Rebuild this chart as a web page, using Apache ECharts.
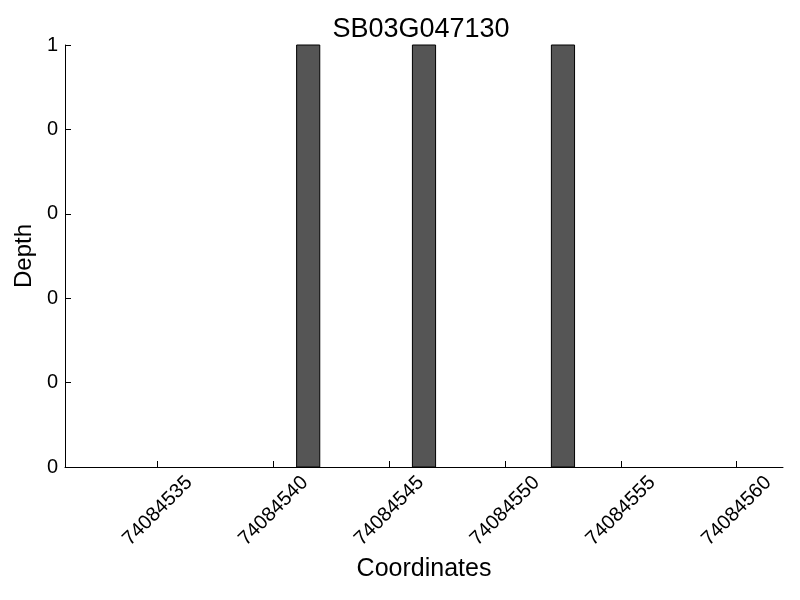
<!DOCTYPE html>
<html>
<head>
<meta charset="utf-8">
<script src="https://cdn.jsdelivr.net/npm/echarts@6/dist/echarts.min.js"></script>
<style>html,body{margin:0;padding:0;background:#fff}#c{width:800px;height:600px}</style>
</head>
<body>
<div id="c"></div>
<script>
// Data
const positions = [74084541, 74084546, 74084552];
const depths = [1, 1, 1];
const binWidth = 1;
const xTickValues = [74084535, 74084540, 74084545, 74084550, 74084555, 74084560];
const yTickValues = [0, 0.2, 0.4, 0.6, 0.8, 1];
const yTickLabels = ['0', '0', '0', '0', '0', '1'];
const titleText = 'SB03G047130';

const FONT = 'Liberation Sans, Arial, sans-serif';
const chart = echarts.init(document.getElementById('c'), null, {renderer: 'canvas'});
chart.setOption({
  animation: false,
  backgroundColor: '#fff',
  title: {
    text: titleText, left: 416, top: 11, textAlign: 'center',
    textStyle: {fontFamily: FONT, fontSize: 27, fontWeight: 'normal', color: '#000'}
  },
  grid: {left: 65, right: 17, top: 45, bottom: 133, containLabel: false},
  xAxis: {
    type: 'value', min: 74084531, max: 74084562,
    name: 'Coordinates', nameLocation: 'middle', nameGap: 87,
    nameTextStyle: {fontFamily: FONT, fontSize: 25, color: '#000'},
    axisLine: {show: true, onZero: false, lineStyle: {color: '#000', width: 1}},
    axisTick: {show: true, inside: true, length: 6, customValues: xTickValues, lineStyle: {color: '#000'}},
    axisLabel: {
      customValues: xTickValues, rotate: 45, align: 'center', verticalAlign: 'middle', margin: 44,
      fontFamily: FONT, fontSize: 20, color: '#000',
      formatter: v => String(v)
    },
    splitLine: {show: false}
  },
  yAxis: {
    type: 'value', min: 0, max: 1,
    name: 'Depth', nameLocation: 'middle', nameGap: 24,
    nameTextStyle: {fontFamily: FONT, fontSize: 24, color: '#000'},
    axisLine: {show: true, lineStyle: {color: '#000', width: 1}},
    axisTick: {show: true, inside: true, length: 6, customValues: yTickValues, lineStyle: {color: '#000'}},
    axisLabel: {
      customValues: yTickValues, margin: 7, fontFamily: FONT, fontSize: 20, color: '#000',
      formatter: (v, i) => yTickLabels[Math.round(v / 0.2)]
    },
    splitLine: {show: false}
  },
  series: [{
    type: 'custom',
    data: positions.map((p, i) => [p, depths[i]]),
    renderItem: function (params, api) {
      const x = api.value(0), y = api.value(1);
      const p0 = api.coord([x, 0]);
      const p1 = api.coord([x + binWidth, y]);
      return {
        type: 'rect',
        shape: {x: p0[0], y: p1[1], width: p1[0] - p0[0], height: p0[1] - p1[1]},
        style: {fill: '#555555', stroke: '#000', lineWidth: 1}
      };
    }
  }]
});
</script>
</body>
</html>
